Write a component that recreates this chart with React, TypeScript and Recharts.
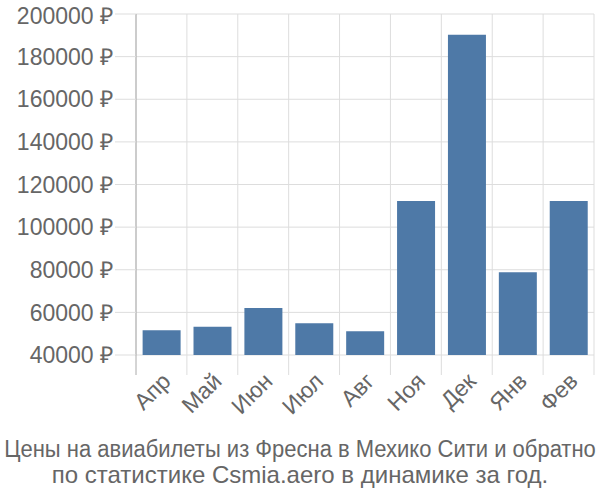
import { BarChart, Bar, XAxis, YAxis, CartesianGrid } from 'recharts'

const months = ['Апр', 'Май', 'Июн', 'Июл', 'Авг', 'Ноя', 'Дек', 'Янв', 'Фев']
const prices = [51600, 53300, 62100, 54900, 51100, 112300, 190300, 78800, 112300]
const yTicks = [40000, 60000, 80000, 100000, 120000, 140000, 160000, 180000, 200000]
const title = ['Цены на авиабилеты из Фресна в Мехико Сити и обратно', 'по статистике Csmia.aero в динамике за год.']

const W = 600
const H = 500
const LEFT = 136
const TOP = 14
const RIGHT = 6
const X_AXIS_H = 80
const BOTTOM = 65
const BAND = (W - LEFT - RIGHT) / months.length

const GRID = '#dddddd'
const AXIS = '#aaaaaa'
const TEXT = '#666666'
const FONT = '"Liberation Sans", Arial, sans-serif'

const data = months.map((month, i) => ({ month, price: prices[i] }))

function MonthTick(props: any) {
  const { x, y, payload, index } = props
  const left = x - BAND / 2
  return (
    <g>
      <line x1={left} y1={y} x2={left} y2={y + 20} stroke={index === 0 ? AXIS : GRID} />
      {index === months.length - 1 && (
        <line x1={x + BAND / 2} y1={y} x2={x + BAND / 2} y2={y + 20} stroke={GRID} />
      )}
      <text
        transform={`translate(${x + 5},${y + 22}) rotate(-45)`}
        textAnchor="end"
        dominantBaseline="central"
        fill={TEXT}
        fontSize={23}
        fontFamily={FONT}
      >
        {payload.value}
      </text>
    </g>
  )
}

export default function App() {
  return (
    <div style={{ position: 'absolute', left: 0, top: 0, width: W, height: H, background: '#fff' }}>
      <BarChart
        width={W}
        height={H}
        data={data}
        margin={{ top: TOP, right: RIGHT, left: 0, bottom: BOTTOM }}
        barCategoryGap="13%"
      >
        <CartesianGrid
          stroke={GRID}
          verticalCoordinatesGenerator={({ offset }: any) =>
            Array.from({ length: months.length + 1 }, (_, i) => offset.left + (i * offset.width) / months.length)
          }
        />
        <XAxis
          dataKey="month"
          height={X_AXIS_H}
          axisLine={false}
          tickLine={false}
          tickSize={0}
          tickMargin={0}
          interval={0}
          tick={MonthTick}
        />
        <YAxis
          width={LEFT}
          domain={[40000, 200000]}
          ticks={yTicks}
          allowDataOverflow
          axisLine={{ stroke: AXIS }}
          tickLine={{ stroke: GRID }}
          tickSize={21}
          tickMargin={2}
          tickFormatter={(v: number) => `${v} ₽`}
          tick={{ fill: TEXT, fontSize: 23, fontFamily: FONT }}
        />
        <Bar dataKey="price" fill="#4e79a7" isAnimationActive={false} />
      </BarChart>
      <svg width={W} height={70} style={{ position: 'absolute', left: 0, top: 430 }}>
        {/* first line is squeezed to fit the width, like in the original */}
        <text
          transform={`translate(${W / 2},27) scale(1,1.09)`}
          textAnchor="middle"
          fill={TEXT}
          fontSize={22}
          fontFamily={FONT}
        >
          {title[0]}
        </text>
        <text x={W / 2} y={53} textAnchor="middle" fill={TEXT} fontSize={24} fontFamily={FONT}>
          {title[1]}
        </text>
      </svg>
    </div>
  )
}
